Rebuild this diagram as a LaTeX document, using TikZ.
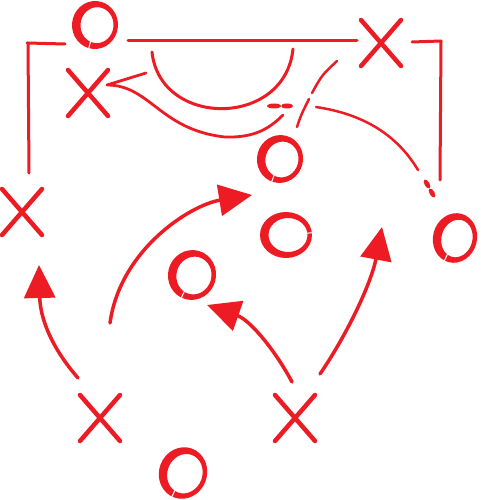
\documentclass[tikz,border=0pt]{standalone}
\usetikzlibrary{arrows.meta, calc}
\definecolor{chalk}{HTML}{ED1C24}

\begin{document}
\begin{tikzpicture}[x=1pt, y=-1pt,
brush/.style = {% chalk strokes
    draw=chalk, line width=3pt, line cap=round, line join=round,
               },
cross/.style = {brush, line width=4.5pt},
shot/.style  = {brush, line width=3.5pt,
                -{Triangle[length=33pt,width=31pt]}},
blob/.style  = {fill=chalk},
                    ]
\useasboundingbox (0,0) rectangle (480,500);
% lines of the box
\draw[brush] (27,43) -- (65,44);
\draw[brush] (28,43) -- (29,173);
\draw[brush] (128,41) -- (357,41);
\draw[brush] (412,42) -- (441,41) -- (440,180);
% crosses
\foreach \x/\y [count=\i] in {88/93, 381/43, 22/212, 100/418, 295/418}{
    \coordinate (x\i) at (\x,\y);
    \draw[cross] ($(x\i)+(-20,-23)$) -- ($(x\i)+(20,23)$);
    \draw[cross] ($(x\i)+(20,-23)$) -- ($(x\i)+(-20,23)$);
}
% rings
\foreach \x/\y/\a/\b/\r/\g [count=\i] in
       {95/25/23/24/-5/255,
        280/159/23/24/-15/250,
        286/235/26/23/0/5,
        455/238/22/25/-15/245,
        192/275/24/25/-15/245,
        183/473/24/26/-20/245}{
    \coordinate (o\i) at (\x,\y);
    \fill[chalk, even odd rule, rotate around={\r:(o\i)}]
        (o\i) ellipse ({\a*1pt} and {\b*1pt})
        ($(o\i)+(2,0)$) ellipse ({(\a-6.5)*1pt} and {(\b-6)*1pt});
    \draw[white, line width=1pt] (o\i) ++(\g:13pt) -- ++(\g:17pt);
}
% runs at the goal
\draw[brush, line width=2.8pt] (146,73) -- (107,85)
    .. controls (150,85) and (160,130) .. (225,137)
    .. controls (255,138) and (270,128) .. (283,115);
\draw[brush] (152,52) .. controls (160,128) and (285,128) .. (293,49);
\draw[brush, line width=2.5pt] (297,127) .. controls (301,115) .. (309,99);
\draw[brush, line width=2.5pt] (312,93) .. controls (322,75) .. (337,61);
\draw[brush, line width=2.5pt] (316,107) .. controls (370,115) and (400,140) .. (418,170);
\fill[blob] (274,106) ellipse (7pt and 2.5pt) (287,106) ellipse (6pt and 2.5pt);
\fill[blob, rotate around={-60:(427,184)}] (427,184) ellipse (5pt and 2.5pt);
\fill[blob, rotate around={-60:(432,193)}] (432,193) ellipse (5pt and 2.5pt);
% passes
\coordinate (s1) at (78,378);  \coordinate (t1) at (39,265);
\coordinate (s2) at (110,323); \coordinate (t2) at (252,195);
\coordinate (s3) at (292,382); \coordinate (t3) at (207,305);
\coordinate (s4) at (320,374); \coordinate (t4) at (382,227);
\draw[shot] (s1) .. controls (45,340) and (40,310) .. (t1);
\draw[shot] (s2) .. controls (120,250) and (190,205) .. (t2);
\draw[shot] (s3) .. controls (275,350) and (250,320) .. (t3);
\draw[shot] (s4) .. controls (350,330) and (372,280) .. (t4);
\end{tikzpicture}
\end{document}
